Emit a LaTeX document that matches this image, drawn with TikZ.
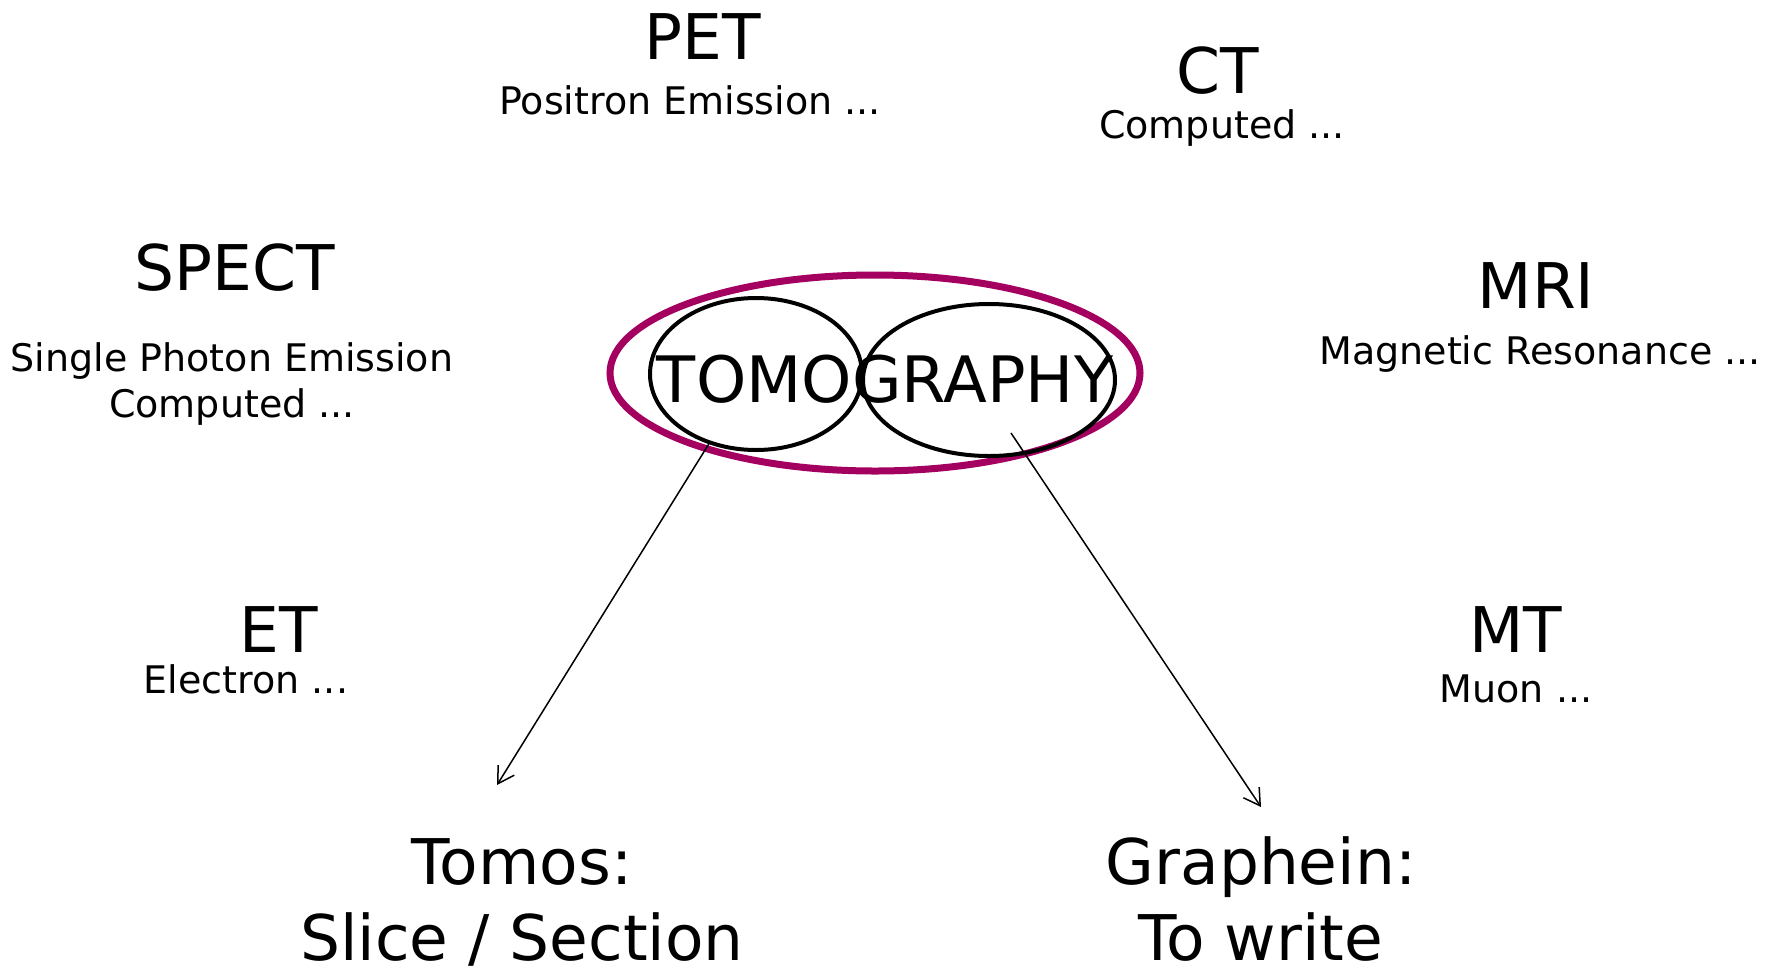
\documentclass[tikz,border=0pt]{standalone}
\usepackage{fontspec}
\setmainfont{DejaVu Sans}
\usetikzlibrary{arrows.meta,shapes.geometric}
\definecolor{plum}{RGB}{163,0,96}
\begin{document}
\begin{tikzpicture}[x=1pt,y=-1pt,
  big/.style={font=\fontsize{63}{76}\selectfont, inner sep=0pt, anchor=base, align=center},
  small/.style={font=\fontsize{38}{46}\selectfont, inner sep=0pt, anchor=base, align=center},
  ring/.style={ellipse, draw, line width=4pt, inner sep=0pt},
  outerring/.style={ellipse, draw=plum, line width=7pt, inner sep=0pt},
  link/.style={-{Straight Barb[length=16pt,width=19pt]}, line width=1.5pt}]
\useasboundingbox (0,0) rectangle (1775,967);
% ellipses
\node[outerring, minimum width=530pt, minimum height=196pt] (outer) at (875,373) {};
\node[ring, minimum width=212pt, minimum height=152pt] (tomo) at (756,374) {};
\node[ring, minimum width=252pt, minimum height=152pt] (graphy) at (989,380) {};
\node[font=\fontsize{64}{76}\selectfont, inner sep=0pt, anchor=base] (word) at (885,402) {TOMOGRAPHY};
% labels
\node[big] (pet) at (703,59) {PET};
\node[small] (petl) at (690,114) {Positron Emission ...};
\node[big] (ct) at (1218,93) {CT};
\node[small] (ctl) at (1222,138) {Computed ...};
\node[big] (spect) at (235,290) {SPECT};
\node[small] (spectl) at (232,417) {Single Photon Emission\\Computed ...};
\node[big] (mri) at (1536,308) {MRI};
\node[small] (mril) at (1540,364) {Magnetic Resonance ...};
\node[big] (et) at (279,652) {ET};
\node[small] (etl) at (246,693) {Electron ...};
\node[big] (mt) at (1516,652) {MT};
\node[small] (mtl) at (1516,702) {Muon ...};
\node[big] (tomos) at (522,960) {Tomos:\\Slice / Section};
\node[big] (graphein) at (1261,960) {Graphein:\\To write};
% arrows
\coordinate (gstart) at (1011,433);
\coordinate (tomostip) at (497,785);
\coordinate (grtip) at (1261,807);
\draw[link] (tomo.236) -- (tomostip);
\draw[link] (gstart) -- (grtip);
\end{tikzpicture}
\end{document}
